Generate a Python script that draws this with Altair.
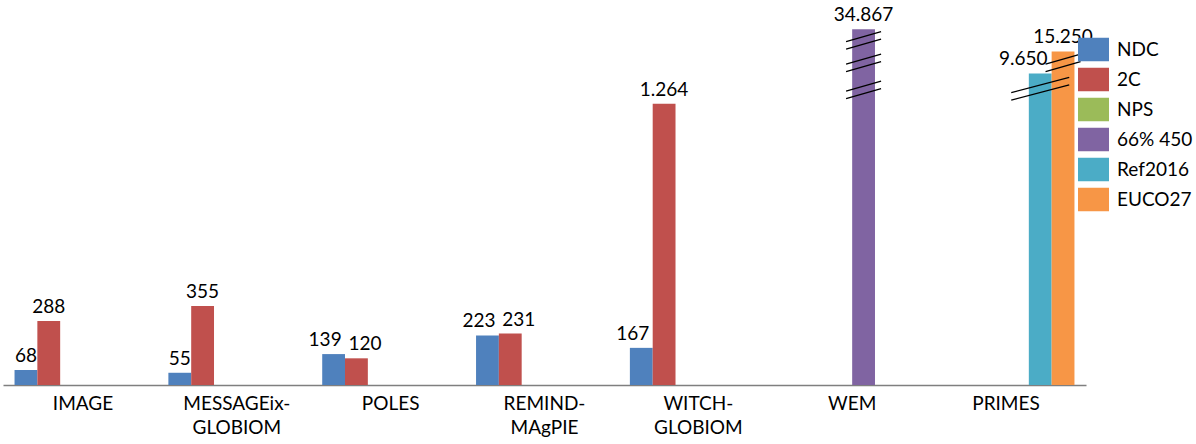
import altair as alt
import pandas as pd

models = ["IMAGE", "MESSAGEix-GLOBIOM", "POLES", "REMIND-MAgPIE", "WITCH-GLOBIOM", "WEM", "PRIMES"]
series = ["NDC", "2C", "NPS", "66% 450", "Ref2016", "EUCO27"]
colors = ["#4F81BD", "#C0504D", "#9BBB59", "#8064A2", "#4BACC6", "#F79646"]

ndc = [68, 55, 139, 223, 167, None, None]
c2 = [288, 355, 120, 231, 1264, None, None]
nps = [None, None, None, None, None, None, None]
s66_450 = [None, None, None, None, None, 34867, None]
ref2016 = [None, None, None, None, None, None, 9650]
euco27 = [None, None, None, None, None, None, 15250]

# bars cut by the broken axis: drawn height in value units
broken_model = ["WEM", "PRIMES", "PRIMES"]
broken_series = ["66% 450", "Ref2016", "EUCO27"]
broken_height = [1600, 1400, 1500]

# break marks (double slashes) drawn on the cut bars
break_model = ["WEM", "WEM", "WEM", "PRIMES", "PRIMES"]
break_series = ["66% 450", "66% 450", "66% 450", "EUCO27", "Ref2016"]
break_y = [1550, 1448, 1327, 1448, 1332]
break_kind = ["short", "short", "short", "short", "long"]

rows = []
for s, vals in zip(series, [ndc, c2, nps, s66_450, ref2016, euco27]):
    for m, v in zip(models, vals):
        if v is None:
            continue
        h = v
        for bm, bs, bh in zip(broken_model, broken_series, broken_height):
            if bm == m and bs == s:
                h = bh
        rows.append({"model": m, "series": s, "value": v, "height": h})
df = pd.DataFrame(rows)

bdf = pd.DataFrame({"model": break_model, "series": break_series, "y": break_y, "kind": break_kind})

short_path = "M-1,0.071L1,-0.5M-1,0.5L1,-0.071"
long_path = "M-1,0.137L1,-0.395M-1,0.395L1,-0.137"
legend_path = "M-1,-0.758H1V0.758H-1Z"

FONT = "Lato"

xenc = alt.X(
    "model:N", sort=models,
    scale=alt.Scale(paddingInner=0.11, paddingOuter=0.075),
    axis=alt.Axis(
        title=None, labelAngle=0, ticks=False, domainColor="#7f7f7f", domainWidth=1.5,
        labelFont=FONT, labelFontSize=19, labelColor="black", labelPadding=9,
        labelLineHeight=24, labelBaseline="top",
        labelExpr="split(replace(datum.label, '-', '-|'), '|')",
    ),
)
xoff = alt.XOffset("series:N", sort=series,
                   scale=alt.Scale(domain=series, paddingInner=0, paddingOuter=0))
yscale = alt.Scale(domain=[0, 1731], nice=False, zero=True)

bars = alt.Chart(df).mark_bar().encode(
    x=xenc,
    xOffset=xoff,
    y=alt.Y("height:Q", scale=yscale, axis=None),
    color=alt.Color(
        "series:N", sort=series,
        scale=alt.Scale(domain=series, range=colors),
        legend=alt.Legend(
            title=None, orient="none", legendX=1075, legendY=34, padding=0,
            symbolType=legend_path, symbolSize=961, symbolStrokeWidth=0, symbolOpacity=1,
            labelFont=FONT, labelFontSize=19, labelColor="black",
            rowPadding=2, labelOffset=8,
        ),
    ),
)

label_expr = "replace(format(datum.value, ','), ',', '.')"
left_nudged = ("(datum.series == 'NDC' && (datum.model == 'POLES' || datum.model == 'REMIND-MAgPIE'"
               " || datum.model == 'WITCH-GLOBIOM'))")
right_nudged = "(datum.series == '2C' && (datum.model == 'POLES' || datum.model == 'REMIND-MAgPIE'))"
ref_label = "(datum.series == 'Ref2016')"


def label_layer(flt, dx, dy=-8):
    return alt.Chart(df).transform_filter(flt).transform_calculate(lab=label_expr).mark_text(
        font=FONT, fontSize=19, color="black", baseline="alphabetic", dy=dy, dx=dx
    ).encode(x=alt.X("model:N", sort=models), xOffset=xoff,
             y=alt.Y("height:Q", scale=yscale), text="lab:N")


labels = label_layer(f"!{left_nudged} && !{right_nudged} && !{ref_label}", 0)
labels_left = label_layer(left_nudged, -8.5)
labels_right = label_layer(right_nudged, 8.5)
labels_ref = label_layer(ref_label, -17, -9)

brk_short = alt.Chart(bdf).transform_filter("datum.kind == 'short'").mark_point(
    shape=short_path, size=1225, filled=False, stroke="black", strokeWidth=1.3, opacity=1
).encode(x=alt.X("model:N", sort=models), xOffset=xoff, y=alt.Y("y:Q", scale=yscale))

brk_long = alt.Chart(bdf).transform_filter("datum.kind == 'long'").mark_point(
    shape=long_path, size=3364, filled=False, stroke="black", strokeWidth=1.3, opacity=1,
    xOffset=11.4
).encode(x=alt.X("model:N", sort=models), xOffset=xoff, y=alt.Y("y:Q", scale=yscale))

chart = alt.layer(bars, labels, labels_left, labels_right, labels_ref, brk_short, brk_long).properties(
    width=1083, height=385,
    autosize=alt.AutoSizeParams(type="none"),
    padding={"left": 3, "top": 0, "right": 110, "bottom": 59},
    background="white",
).configure_view(stroke=None)

chart.save("out.html", embed_options={"renderer": "svg", "actions": False})
